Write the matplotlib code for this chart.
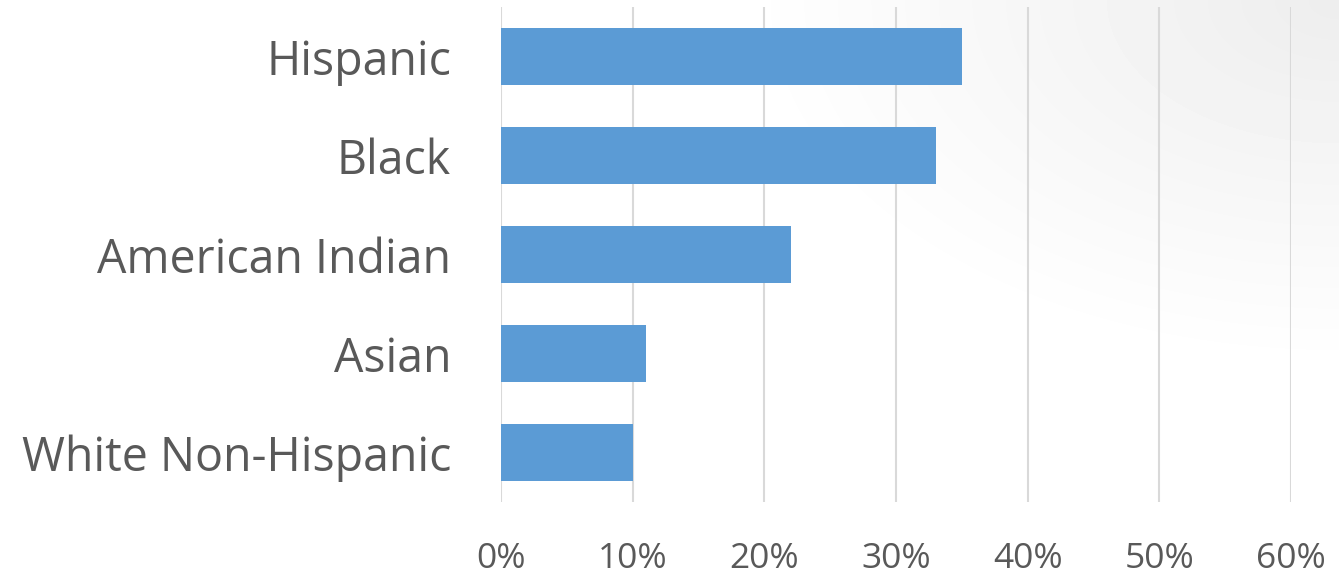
import numpy as np
import matplotlib
matplotlib.use("Agg")
from matplotlib import pyplot as plt
from matplotlib.ticker import PercentFormatter

# Share of group (percent)
categories = ["Hispanic", "Black", "American Indian", "Asian", "White Non-Hispanic"]
values = [35, 33, 22, 11, 10]
x_ticks = [0, 10, 20, 30, 40, 50, 60]

text_color = "#595959"
bar_color = "#5B9BD5"
grid_color = "#D9D9D9"

fig = plt.figure(figsize=(13.39, 5.76), dpi=100)

# soft gray shading in the top right corner of the slide
bg = fig.add_axes([0, 0, 1, 1], zorder=-10)
yy, xx = np.mgrid[0:576, 0:1339]
dist = np.hypot((xx - 1339) / 1339.0, yy / 576.0 * 0.7)
shade = np.clip(1 - dist / 0.45, 0, 1) * 0.07
bg.imshow(1 - shade, cmap="gray", vmin=0, vmax=1, aspect="auto",
          interpolation="bilinear")
bg.axis("off")

ax = fig.add_axes([501 / 1339, (576 - 502) / 576, 790 / 1339, 495 / 576])
ax.patch.set_alpha(0)
pos = np.arange(len(categories))
ax.barh(pos, values, height=0.585, color=bar_color, zorder=3)
ax.set_ylim(len(categories) - 0.5, -0.5)
ax.set_xlim(0, 60)
ax.set_xticks(x_ticks)
ax.xaxis.set_major_formatter(PercentFormatter(decimals=0))
ax.set_yticks(pos)
ax.set_yticklabels(categories)

ax.grid(axis="x", color=grid_color, linewidth=1.5, zorder=0)
for s in ax.spines.values():
    s.set_visible(False)
ax.tick_params(length=0, colors=text_color)
ax.tick_params(axis="y", labelsize=33.5, pad=36)
ax.tick_params(axis="x", labelsize=25.5, pad=29)
for lbl in ax.get_xticklabels() + ax.get_yticklabels():
    lbl.set_fontfamily("Open Sans")

fig.savefig("out.png", dpi=100)
